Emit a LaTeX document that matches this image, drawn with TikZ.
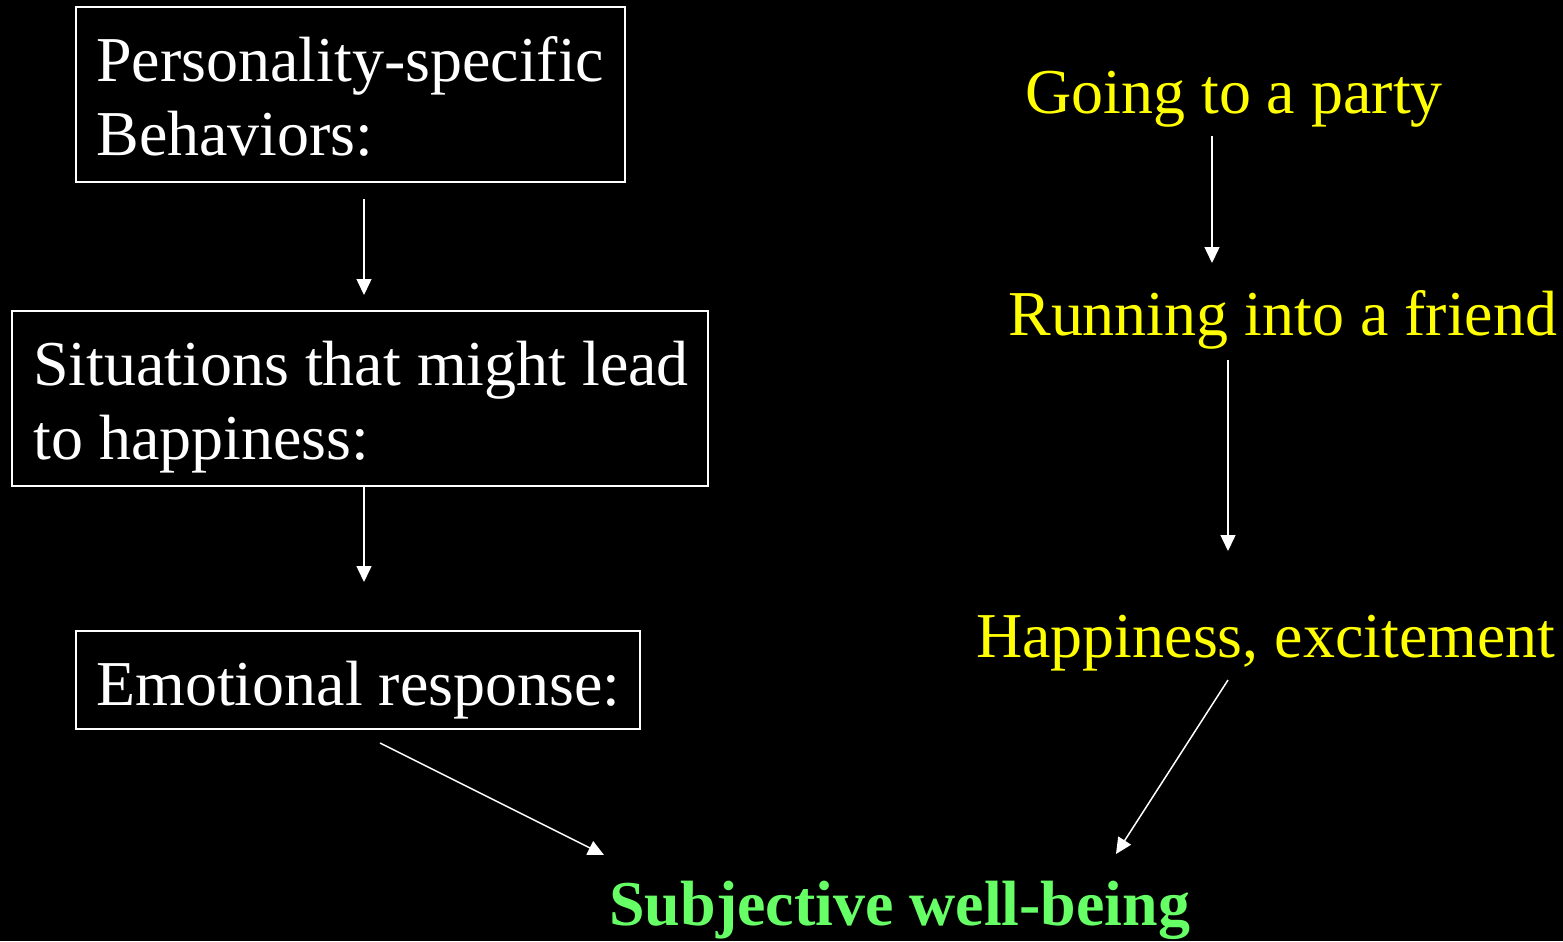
\documentclass[tikz,border=0pt]{standalone}
\usepackage{fontspec}
\setmainfont{Liberation Serif}
\usetikzlibrary{arrows.meta}
\definecolor{ylw}{RGB}{255,255,0}
\definecolor{grn}{RGB}{102,255,102}
\tikzset{
  txt/.style={anchor=base west, inner sep=0pt, font=\fontsize{36.4}{42}\selectfont},
  wtxt/.style={txt, text=white},
  ytxt/.style={txt, text=ylw},
  gtxt/.style={txt, text=grn, font=\fontsize{36.4}{42}\selectfont\bfseries},
  boxr/.style={draw=white, line width=1.1pt, inner sep=0pt},
  arr/.style={draw=white, line width=0.85pt, -{Triangle[length=0.32cm,width=0.30cm]}}
}
\begin{document}
\begin{tikzpicture}[x=0.02cm,y=-0.02cm]
\fill[black] (0,0) rectangle (1563,941);
\useasboundingbox (0,0) rectangle (1563,941);
% boxes
\node[boxr, minimum width=549*0.02cm, minimum height=175*0.02cm] (b1) at (350.5,94.5) {};
\node[boxr, minimum width=696*0.02cm, minimum height=175*0.02cm] (b2) at (360,398.5) {};
\node[boxr, minimum width=564*0.02cm, minimum height=98*0.02cm] (b3) at (358,680) {};
% white texts
\node[wtxt] (t1a) at (96,81) {Personality-specific};
\node[wtxt] (t1b) at (96,155) {Behaviors:};
\node[wtxt] (t2a) at (33,385) {Situations that might lead};
\node[wtxt] (t2b) at (33,459) {to happiness:};
\node[wtxt] (t3) at (96,705) {Emotional response:};
% yellow texts
\node[ytxt] (y1) at (1025,113) {Going to a party};
\node[ytxt] (y2) at (1008,335) {Running into a friend};
\node[ytxt] (y3) at (976,657) {Happiness, excitement};
% green
\node[gtxt] (swb) at (609,925) {Subjective well-being};
% arrow end points
\coordinate (a1s) at (364,199); \coordinate (a1e) at (364,295);
\coordinate (a2s) at (364,487); \coordinate (a2e) at (364,582);
\coordinate (a3s) at (380,743); \coordinate (a3e) at (604,855);
\coordinate (a4s) at (1212,136); \coordinate (a4e) at (1212,263);
\coordinate (a5s) at (1228,360); \coordinate (a5e) at (1228,551);
\coordinate (a6s) at (1228,680); \coordinate (a6e) at (1116,854);
\draw[arr] (a1s) -- (a1e);
\draw[arr] (a2s) -- (a2e);
\draw[arr] (a3s) -- (a3e);
\draw[arr] (a4s) -- (a4e);
\draw[arr] (a5s) -- (a5e);
\draw[arr] (a6s) -- (a6e);
\end{tikzpicture}
\end{document}
